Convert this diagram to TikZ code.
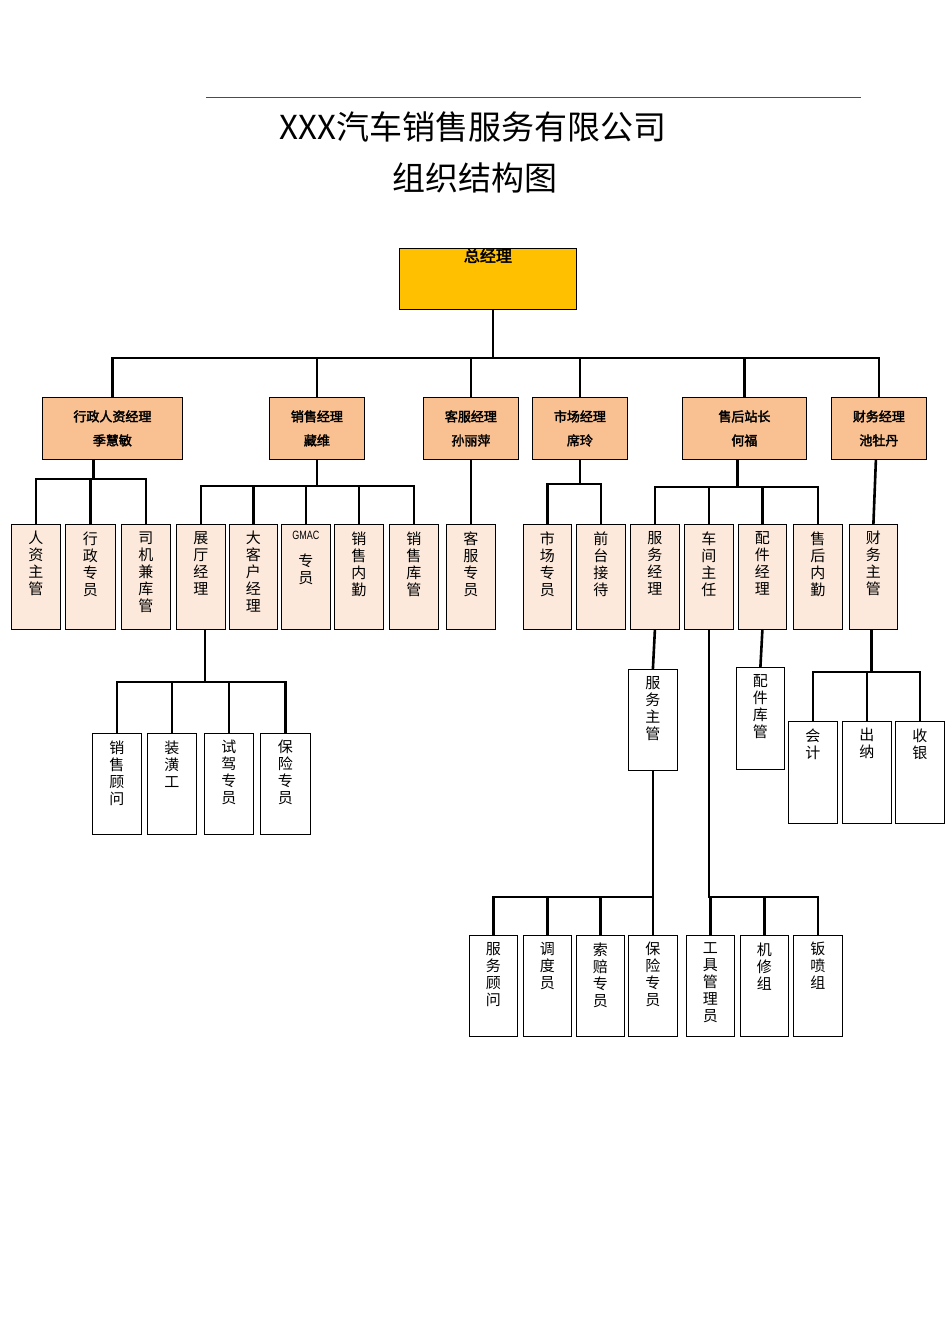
\documentclass[tikz,border=0pt]{standalone}
\usepackage{fontspec}
\setmainfont{Noto Sans CJK SC}
\newfontfamily\cjkbold{Noto Sans CJK SC}[FakeBold=2.5]
\newfontfamily\titlefont{Noto Sans CJK SC}
\newfontfamily\narrowfont{Liberation Sans}[FakeStretch=0.75]
\usetikzlibrary{positioning}

\definecolor{ceofill}{HTML}{FFC000}
\definecolor{mgrfill}{HTML}{F9C191}
\definecolor{staffill}{HTML}{FCE9DB}

% vertical column of characters, w x h box, text from the top
\newcommand{\vcol}[3]{\parbox[c][#2pt][t]{#1pt}{\centering\vspace{7pt}%
  \fontsize{15pt}{17pt}\selectfont #3}}

\tikzset{
  box/.style={draw, line width=0.8pt, inner sep=0pt, anchor=north west},
  mgr/.style={box, fill=mgrfill, align=center, font=\cjkbold\fontsize{13pt}{24pt}\selectfont},
  staff/.style={box, fill=staffill},
  leaf/.style={box, fill=white},
  conn/.style={line width=2.6pt}
}

\begin{document}
\begin{tikzpicture}[x=1pt,y=-1pt]
  \useasboundingbox (0,0) rectangle (950,1344);

  % header and title
  \draw [line width=1pt, black!70] (206,97) coordinate (hl) -- (861,97) coordinate (hr);
  \node (t1) at (473,127) {\titlefont\fontsize{33pt}{36pt}\selectfont XXX汽车销售服务有限公司};
  \node (t2) at (475,178) {\titlefont\fontsize{33pt}{36pt}\selectfont 组织结构图};

  % general manager
  \node [box, fill=ceofill] (ceo) at (399,248)
    {\parbox[c][61pt][t]{177pt}{\centering\cjkbold\fontsize{16pt}{18pt}\selectfont 总经理}};

  % managers
  \node [mgr, minimum width=140, minimum height=62] (xzrz) at (42,397)  {行政人资经理\\季慧敏};
  \node [mgr, minimum width=95,  minimum height=62] (xsjl) at (269,397) {销售经理\\藏维};
  \node [mgr, minimum width=95,  minimum height=62] (kfjl) at (423,397) {客服经理\\孙丽萍};
  \node [mgr, minimum width=95,  minimum height=62] (scjl) at (532,397) {市场经理\\席玲};
  \node [mgr, minimum width=124, minimum height=62] (shzz) at (682,397) {售后站长\\何福};
  \node [mgr, minimum width=95,  minimum height=62] (cwjl) at (831,397) {财务经理\\池牡丹};

  % staff
  \node [staff] (rzzg)  at (11,524)  {\vcol{49}{105}{人\\资\\主\\管}};
  \node [staff] (xzzy)  at (65,524)  {\vcol{50}{105}{行\\政\\专\\员}};
  \node [staff] (sjkg)  at (121,524) {\vcol{49}{105}{司\\机\\兼\\库\\管}};
  \node [staff] (ztjl)  at (176,524) {\vcol{49}{105}{展\\厅\\经\\理}};
  \node [staff] (dkhjl) at (229,524) {\vcol{48}{105}{大\\客\\户\\经\\理}};
  \node [staff] (gmac)  at (281,524) {\vcol{49}{105}{{\narrowfont\fontsize{12pt}{14pt}\selectfont GMAC}\\[10pt]专\\员}};
  \node [staff] (xsnq)  at (334,524) {\vcol{49}{105}{销\\售\\内\\勤}};
  \node [staff] (xskg)  at (389,524) {\vcol{49}{105}{销\\售\\库\\管}};
  \node [staff] (kfzy)  at (446,524) {\vcol{49}{105}{客\\服\\专\\员}};
  \node [staff] (sczy)  at (523,524) {\vcol{48}{105}{市\\场\\专\\员}};
  \node [staff] (qtjd)  at (576,524) {\vcol{49}{105}{前\\台\\接\\待}};
  \node [staff] (fwjl)  at (630,524) {\vcol{49}{105}{服\\务\\经\\理}};
  \node [staff] (cjzr)  at (684,524) {\vcol{49}{105}{车\\间\\主\\任}};
  \node [staff] (pjjl)  at (738,524) {\vcol{48}{105}{配\\件\\经\\理}};
  \node [staff] (shnq)  at (793,524) {\vcol{49}{105}{售\\后\\内\\勤}};
  \node [staff] (cwzg)  at (849,524) {\vcol{48}{105}{财\\务\\主\\管}};

  % lower levels
  \node [leaf] (xsgw)  at (92,733)  {\vcol{49}{101}{销\\售\\顾\\问}};
  \node [leaf] (zhg)   at (147,733) {\vcol{49}{101}{装\\潢\\工}};
  \node [leaf] (sjzy)  at (204,733) {\vcol{49}{101}{试\\驾\\专\\员}};
  \node [leaf] (bxzya) at (260,733) {\vcol{50}{101}{保\\险\\专\\员}};
  \node [leaf] (fwzg)  at (628,669) {\vcol{49}{101}{服\\务\\主\\管}};
  \node [leaf] (pjkg)  at (736,667) {\vcol{48}{102}{配\\件\\库\\管}};
  \node [leaf] (kj)    at (788,721) {\vcol{49}{102}{会\\计}};
  \node [leaf] (cn)    at (842,721) {\vcol{49}{102}{出\\纳}};
  \node [leaf] (sy)    at (895,721) {\vcol{49}{102}{收\\银}};
  \node [leaf] (fwgw)  at (469,935) {\vcol{48}{101}{服\\务\\顾\\问}};
  \node [leaf] (ddy)   at (523,935) {\vcol{48}{101}{调\\度\\员}};
  \node [leaf] (spzy)  at (576,935) {\vcol{48}{101}{索\\赔\\专\\员}};
  \node [leaf] (bxzyb) at (628,935) {\vcol{49}{101}{保\\险\\专\\员}};
  \node [leaf] (gjgly) at (686,935) {\vcol{48}{101}{工\\具\\管\\理\\员}};
  \node [leaf] (jxz)   at (740,935) {\vcol{48}{101}{机\\修\\组}};
  \node [leaf] (bpz)   at (793,935) {\vcol{49}{101}{钣\\喷\\组}};

  % connectors
  \foreach \c in {xzrz,xsjl,kfjl,scjl,shzz,cwjl}
    \draw [conn] ([xshift=5pt]ceo.south) -- ++(0,48) -| (\c.north);
  \foreach \c in {rzzg,xzzy,sjkg}
    \draw [conn] ([xshift=-19pt]xzrz.south) -- ++(0,19) -| (\c.north);
  \foreach \c in {ztjl,dkhjl,gmac,xsnq,xskg}
    \draw [conn] (xsjl.south) -- ++(0,26) -| (\c.north);
  \draw [conn] (kfjl.south) -- (kfzy.north);
  \foreach \c in {sczy,qtjd}
    \draw [conn] (scjl.south) -- ++(0,24) -| (\c.north);
  \foreach \c in {fwjl,cjzr,pjjl,shnq}
    \draw [conn] ([xshift=-7pt]shzz.south) -- ++(0,27) -| (\c.north);
  \draw [conn] ([xshift=-3pt]cwjl.south) -- (cwzg.north);
  \foreach \c in {xsgw,zhg,sjzy,bxzya}
    \draw [conn] ([xshift=4pt]ztjl.south) -- ++(0,52) -| (\c.north);
  \draw [conn] (fwjl.south) -- (fwzg.north);
  \draw [conn] (pjjl.south) -- (pjkg.north);
  \foreach \c in {kj,cn,sy}
    \draw [conn] ([xshift=-2pt]cwzg.south) -- ++(0,42) -| (\c.north);
  \foreach \c in {fwgw,ddy,spzy,bxzyb}
    \draw [conn] (fwzg.south) -- ++(0,126) -| (\c.north);
  \foreach \c in {gjgly,jxz,bpz}
    \draw [conn] (cjzr.south) -- ++(0,267) -| (\c.north);

\end{tikzpicture}
\end{document}
